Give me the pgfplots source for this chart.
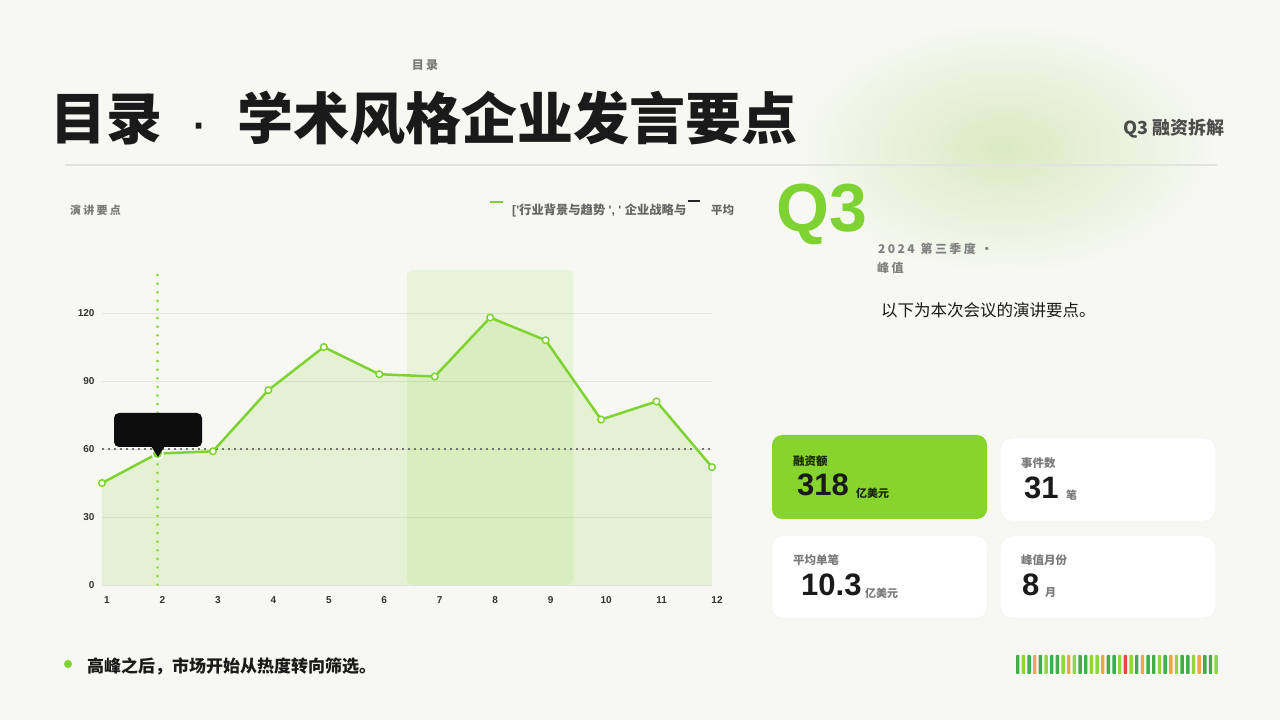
\documentclass[border=0pt]{standalone}
\usepackage{pgfplots}
\pgfplotsset{compat=1.18}
\usepackage{fontspec}
\setmainfont{Noto Sans CJK SC}
\newfontfamily\lat{Liberation Sans}
\newfontfamily\cjksp{Noto Sans CJK SC}[LetterSpace=20]
\newcommand\fs[1]{\fontsize{#1}{#1}\selectfont}
\definecolor{bg}{HTML}{F7F8F3}
\definecolor{glow}{HTML}{DAEAC2}
\definecolor{lime}{HTML}{86D42C}
\definecolor{linec}{HTML}{7ED332}
\definecolor{vline}{HTML}{95D94E}
\definecolor{gridc}{HTML}{E3E4DF}
\definecolor{txt}{HTML}{1A1A1A}
\definecolor{greyt}{HTML}{7A7A7A}
\definecolor{bD}{HTML}{3DAE4B}
\definecolor{bL}{HTML}{90D63C}
\definecolor{bO}{HTML}{EFA445}
\definecolor{bR}{HTML}{E04A3F}
\pgfplotstableread{
x y
1 45
2 58
3 59
4 86
5 105
6 93
7 92
8 118
9 108
10 73
11 81
12 52
}\monthly
\begin{document}
\begin{tikzpicture}[x=1pt,y=1pt]
\fill[bg] (0,0) rectangle (1280,720);
\shade[inner color=glow, outer color=bg] (1005,572) ellipse (215 and 128);
% header
\node[anchor=center, text=greyt, inner sep=0] at (425,655) {\cjksp\bfseries\fs{12}目录};
\node[anchor=west, text=txt, inner sep=0] at (50,602) {\bfseries\fs{56}目录\hspace{0.55em}{\lat\fs{40}·}\hspace{0.55em}学术风格企业发言要点};
\node[anchor=east, text=black!70, inner sep=0] at (1225,591) {\bfseries\fs{18}Q3 融资拆解};
\draw[gridc, line width=1.2] (65,555) -- (1217,555);
% chart header
\node[anchor=west, text=greyt, inner sep=0] at (70,510) {\cjksp\bfseries\fs{11}演讲要点};
\draw[linec, line width=2.5] (490,518) -- (503,518);
\node[anchor=west, text=black!60, inner sep=0] at (512,510) {\bfseries\fs{12.3}{\lat['}行业背景与趋势{\lat\ ', '\ }企业战略与};
\draw[black!85, line width=2] (688,519) -- (700,519);
\node[anchor=west, text=black!60, inner sep=0] at (711,510) {\bfseries\fs{11.5}平均};
\begin{axis}[
  at={(102pt,135pt)}, anchor=south west, scale only axis,
  width=610pt, height=315pt,
  xmin=1, xmax=12, ymin=0, ymax=139,
  clip=false,
  axis line style={draw=none},
  tick style={draw=none},
  xtick={1,...,12}, ytick={0,30,60,90,120},
  ymajorgrids, grid style={gridc, line width=0.8pt},
  /pgf/number format/assume math mode=true,
  ticklabel style={font=\lat\bfseries\fs{10}, text=black!80},
  xticklabel style={xshift=5pt, yshift=-8pt},
  yticklabel style={xshift=-4pt},
]
\fill[lime, opacity=0.12, rounded corners=6pt] (axis cs:6.5,0) rectangle (axis cs:9.5,139);
\addplot[draw=none, fill=lime, fill opacity=0.16] table[x=x,y=y] {\monthly} \closedcycle;
\addplot[vline, line width=2.2, line cap=round, dash pattern=on 0.6pt off 8pt] coordinates {(2,0) (2,139)};
\addplot[black!55, line width=1.2, dash pattern=on 1.5pt off 4.5pt] coordinates {(1,60) (12,60)};
\addplot[linec, line width=2.5, mark=*, mark size=3.3pt, mark options={fill=white, draw=linec, line width=1.5}] table[x=x,y=y] {\monthly};
\addplot[only marks, mark=*, mark size=5.5pt, mark options={fill=linec, draw=white, line width=1.5}] coordinates {(2,58)};
\end{axis}
% tooltip
\fill[black!95, rounded corners=5pt] (114,273) rectangle (202,307);
\fill[black!95] (151,274) -- (165,274) -- (158,263) -- cycle;
% right panel
\node[anchor=west, text=linec, inner sep=0] at (776,506) {\lat\bfseries\fs{68}Q3};
\node[anchor=west, text=black!50, inner sep=0] at (878,471) {\cjksp\bfseries\fs{12}2024\hspace{6pt}第三季度 ·};
\node[anchor=west, text=black!50, inner sep=0] at (877,452) {\cjksp\bfseries\fs{12}峰值};
\node[anchor=west, text=txt, inner sep=0] at (881,410) {\fs{16.5}以下为本次会议的演讲要点。};
% cards
\fill[lime, rounded corners=10pt] (772,201) rectangle (987,285);
\filldraw[fill=white, draw=black!6, rounded corners=10pt] (1001,199) rectangle (1215,282);
\filldraw[fill=white, draw=black!6, rounded corners=10pt] (772,102) rectangle (987,184);
\filldraw[fill=white, draw=black!6, rounded corners=10pt] (1001,102) rectangle (1215,184);
\node[anchor=west, text=black!70!lime!60!black, inner sep=0] at (793,259) {\bfseries\fs{11.5}融资额};
\node[anchor=west, text=txt, inner sep=0] at (797,235) {\lat\bfseries\fs{31}318};
\node[anchor=west, text=black!70!lime!60!black, inner sep=0] at (856,227) {\bfseries\fs{11}亿美元};
\node[anchor=west, text=greyt, inner sep=0] at (1021,257) {\bfseries\fs{11.5}事件数};
\node[anchor=west, text=txt, inner sep=0] at (1024,232) {\lat\bfseries\fs{31}31};
\node[anchor=west, text=greyt, inner sep=0] at (1066,225) {\bfseries\fs{11}笔};
\node[anchor=west, text=greyt, inner sep=0] at (793,160) {\bfseries\fs{11.5}平均单笔};
\node[anchor=west, text=txt, inner sep=0] at (801,135) {\lat\bfseries\fs{31}10.3};
\node[anchor=west, text=greyt, inner sep=0] at (865,127) {\bfseries\fs{11}亿美元};
\node[anchor=west, text=greyt, inner sep=0] at (1021,160) {\bfseries\fs{11.5}峰值月份};
\node[anchor=west, text=txt, inner sep=0] at (1022,135) {\lat\bfseries\fs{31}8};
\node[anchor=west, text=greyt, inner sep=0] at (1045,127) {\bfseries\fs{11}月};
% footer
\fill[linec] (68,56) circle (4);
\node[anchor=west, text=txt, inner sep=0] at (87,54) {\bfseries\fs{17}高峰之后，市场开始从热度转向筛选。};
\foreach \c [count=\i from 0] in {bD,bL,bD,bO,bD,bL,bD,bD,bL,bO,bL,bD,bD,bL,bL,bO,bD,bD,bL,bR,bL,bD,bO,bD,bD,bL,bD,bO,bL,bD,bD,bL,bO,bD,bD,bL}{
  \fill[\c, rounded corners=0.8pt] ({1016+\i*5.67},46) rectangle ++(3.4,19);
}
\end{tikzpicture}
\end{document}
